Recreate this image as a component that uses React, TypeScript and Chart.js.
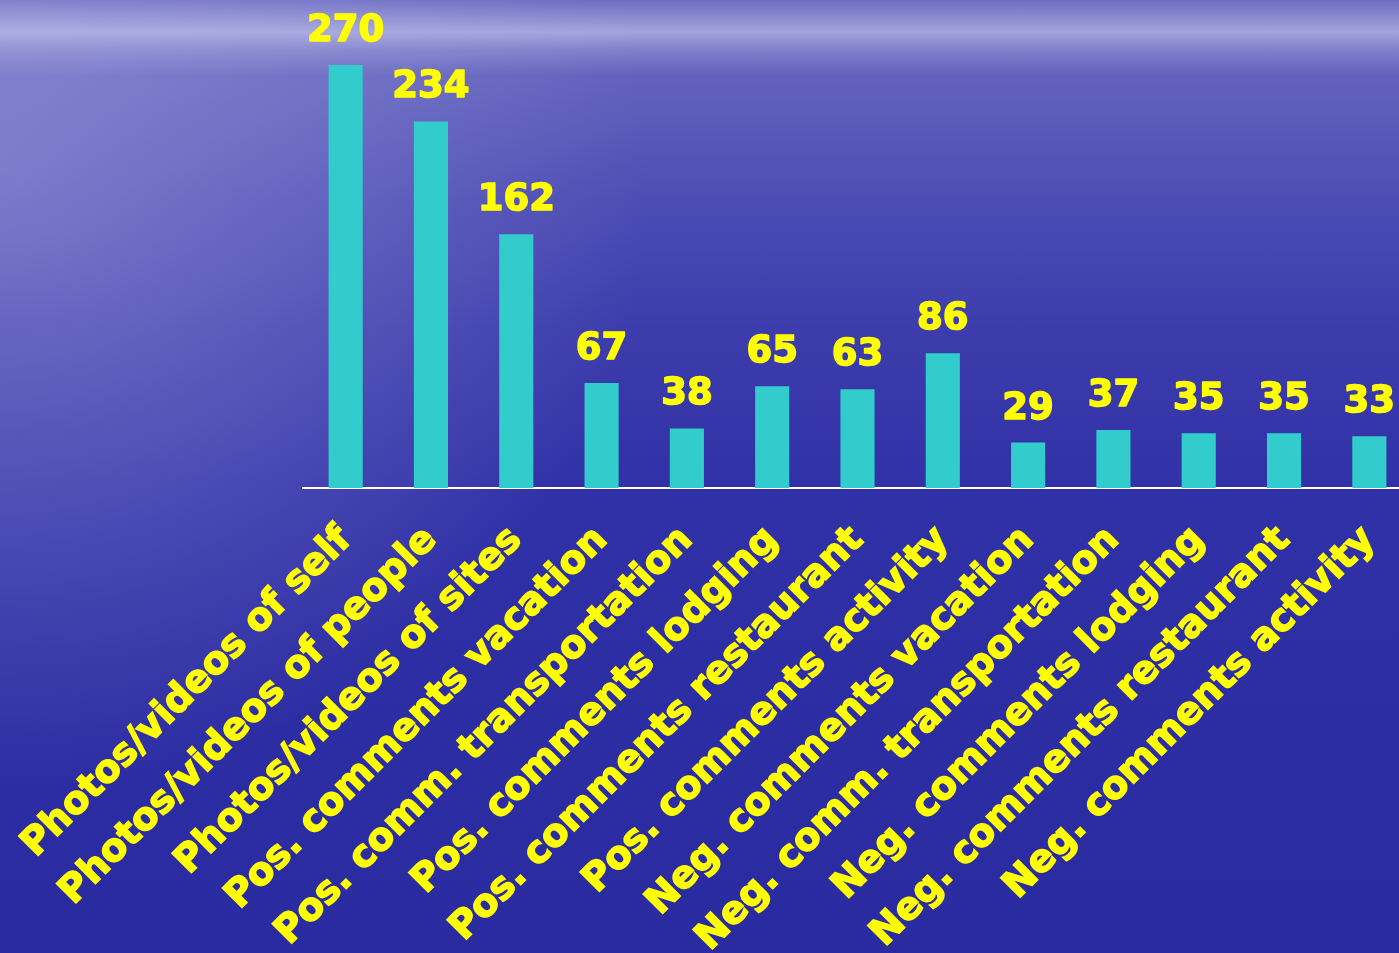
import React, { useEffect, useRef } from "react";
import { Chart, registerables } from "chart.js";

Chart.register(...registerables);

const categories: string[] = [
  "Photos/videos of self",
  "Photos/videos of people",
  "Photos/videos of sites",
  "Pos. comments vacation",
  "Pos. comm. transportation",
  "Pos. comments lodging",
  "Pos. comments restaurant",
  "Pos. comments activity",
  "Neg. comments vacation",
  "Neg. comm. transportation",
  "Neg. comments lodging",
  "Neg. comments restaurant",
  "Neg. comments activity",
];

const counts: number[] = [270, 234, 162, 67, 38, 65, 63, 86, 29, 37, 35, 35, 33];

const FONT = "'DejaVu Sans', Verdana, sans-serif";
const YELLOW = "#ffff00";
const BAR = "#33cccc";

const valueLabels = {
  id: "valueLabels",
  afterDatasetsDraw(chart: any) {
    const ctx = chart.ctx;
    const meta = chart.getDatasetMeta(0);
    ctx.save();
    ctx.fillStyle = YELLOW;
    ctx.strokeStyle = YELLOW;
    ctx.lineWidth = 1.5;
    ctx.lineJoin = "round";
    ctx.font = `bold 37px ${FONT}`;
    ctx.textAlign = "center";
    ctx.textBaseline = "alphabetic";
    meta.data.forEach((el: any, i: number) => {
      const t = String(counts[i]);
      ctx.strokeText(t, el.x, el.y - 24);
      ctx.fillText(t, el.x, el.y - 24);
    });
    ctx.restore();
  },
};

export default function App() {
  const ref = useRef<HTMLCanvasElement>(null);
  useEffect(() => {
    document.body.style.margin = "0";
    document.body.style.overflow = "hidden";
    const chart = new Chart(ref.current!, {
      type: "bar",
      data: {
        labels: categories,
        datasets: [
          {
            data: counts,
            backgroundColor: BAR,
            borderWidth: 0,
            barPercentage: 0.8,
            categoryPercentage: 0.5,
          },
        ],
      },
      options: {
        responsive: false,
        animation: false,
        devicePixelRatio: 1,
        layout: { padding: { left: 303, top: 18, right: 28, bottom: 0 } },
        plugins: {
          legend: { display: false },
          tooltip: { enabled: false },
          title: { display: false },
        },
        scales: {
          y: {
            display: false,
            min: 0,
            max: 300,
          },
          x: {
            grid: { display: false },
            border: { display: true, color: "#ffffff", width: 2 },
            ticks: {
              color: YELLOW,
              font: { family: FONT, size: 38, weight: "bold" },
              textStrokeColor: YELLOW,
              textStrokeWidth: 1.5,
              minRotation: 45,
              maxRotation: 45,
              autoSkip: false,
              padding: 22,
            },
            afterFit: (scale: any) => {
              scale.height = 465;
              scale.paddingLeft = 0;
              scale.paddingRight = 0;
            },
          },
        },
      },
      plugins: [valueLabels],
    });
    return () => chart.destroy();
  }, []);

  return (
    <div
      style={{
        position: "fixed",
        left: 0,
        top: 0,
        width: 1399,
        height: 953,
        overflow: "hidden",
        background: [
          "linear-gradient(to bottom, rgba(205,205,240,0) 0px, rgba(205,205,240,0.6) 32px, rgba(205,205,240,0.25) 50px, rgba(205,205,240,0) 75px)",
          "radial-gradient(ellipse 650px 620px at 0px 170px, rgba(160,160,222,0.55), rgba(160,160,222,0.25) 55%, rgba(160,160,222,0) 100%)",
          "linear-gradient(to bottom, #6c6cc2 0px, #6060bc 90px, #4c4cb4 200px, #3c3cac 330px, #3232a8 480px, #2e2ea4 650px, #2b2ba1 953px)",
        ].join(","),
      }}
    >
      <canvas ref={ref} width={1440} height={953} style={{ display: "block" }} />
    </div>
  );
}
